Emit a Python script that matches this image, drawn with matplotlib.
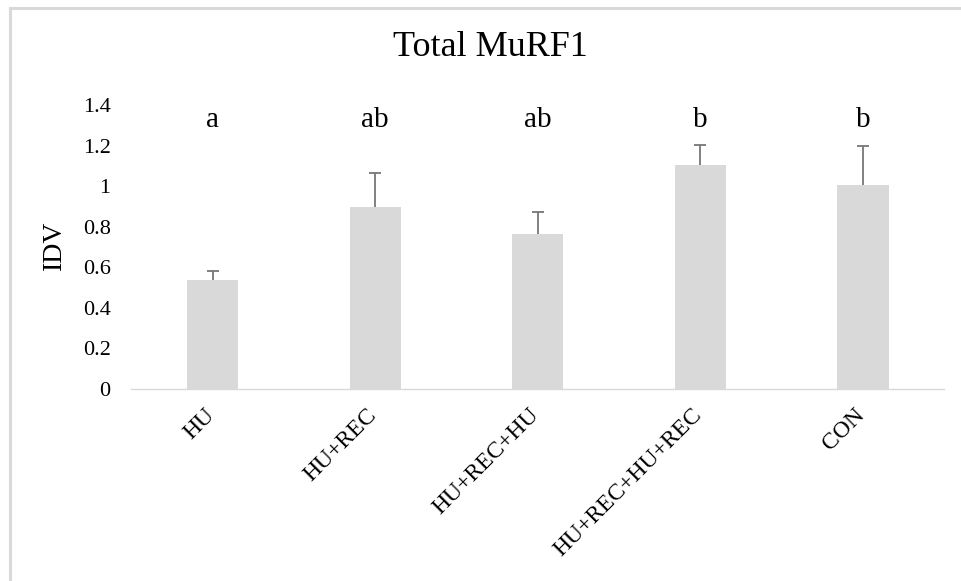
import matplotlib
matplotlib.use("Agg")
import matplotlib.pyplot as plt
from matplotlib.lines import Line2D
from matplotlib.transforms import ScaledTranslation

# Group means, upper error (SE) and significance letters
groups = ["HU", "HU+REC", "HU+REC+HU", "HU+REC+HU+REC", "CON"]
idv = [0.537, 0.897, 0.764, 1.104, 1.004]
err_up = [0.047, 0.168, 0.110, 0.100, 0.192]
letters = ["a", "ab", "ab", "b", "b"]
yticks = [0, 0.2, 0.4, 0.6, 0.8, 1, 1.2, 1.4]
ytick_labels = ["0", "0.2", "0.4", "0.6", "0.8", "1", "1.2", "1.4"]
letter_level = 1.29

plt.rcParams["font.family"] = ["Liberation Serif", "DejaVu Serif"]

W, H = 961, 581
fig = plt.figure(figsize=(W / 100, H / 100), dpi=100)
ax = fig.add_axes([131.4 / W, 1 - 389 / H, 812.9 / W, 284 / H])

x = list(range(len(groups)))
ax.bar(x, idv, width=0.314, color="#d9d9d9", zorder=2)
eb = ax.errorbar(x, idv, yerr=[[0] * len(idv), err_up], fmt="none",
                 ecolor="#767676", elinewidth=1.3, capsize=4.5, capthick=1.3, zorder=3)
# one-sided bars: hide the cap at the bar top
eb[1][0].set_visible(False)

for xi, lab in zip(x, letters):
    ax.text(xi, letter_level, lab, ha="center", va="baseline", fontsize=21, color="black")

ax.set_xlim(-0.5, len(groups) - 0.5)
ax.set_ylim(0, 1.4)
ax.set_yticks(yticks)
ax.set_yticklabels(ytick_labels, fontsize=16)
ax.set_xticks(x)
ax.set_xticklabels(groups, fontsize=17, rotation=45, ha="right", rotation_mode="anchor")
ax.tick_params(axis="y", length=0, pad=15)
ax.tick_params(axis="x", length=0, pad=9)
shift = ScaledTranslation(-9 / 100, -3 / 100, fig.dpi_scale_trans)
for lbl in ax.get_xticklabels():
    lbl.set_transform(lbl.get_transform() + shift)

for side in ["top", "right", "left"]:
    ax.spines[side].set_visible(False)
ax.spines["bottom"].set_color("#d9d9d9")
ax.spines["bottom"].set_linewidth(1.0)

fig.text(490 / W, 1 - 48 / H, "Total MuRF1", ha="center", va="center", fontsize=26)
fig.text(54 / W, 1 - 245 / H, "IDV", ha="center", va="center", rotation=90, fontsize=20)

# light frame around the chart area
fig.add_artist(Line2D([9.5 / W, 1.0], [1 - 7.5 / H, 1 - 7.5 / H], color="#d9d9d9",
                      lw=2.2, transform=fig.transFigure))
fig.add_artist(Line2D([9.5 / W, 9.5 / W], [0.0, 1 - 7.5 / H], color="#d9d9d9",
                      lw=2.2, transform=fig.transFigure))

fig.savefig("out.png", dpi=100)
